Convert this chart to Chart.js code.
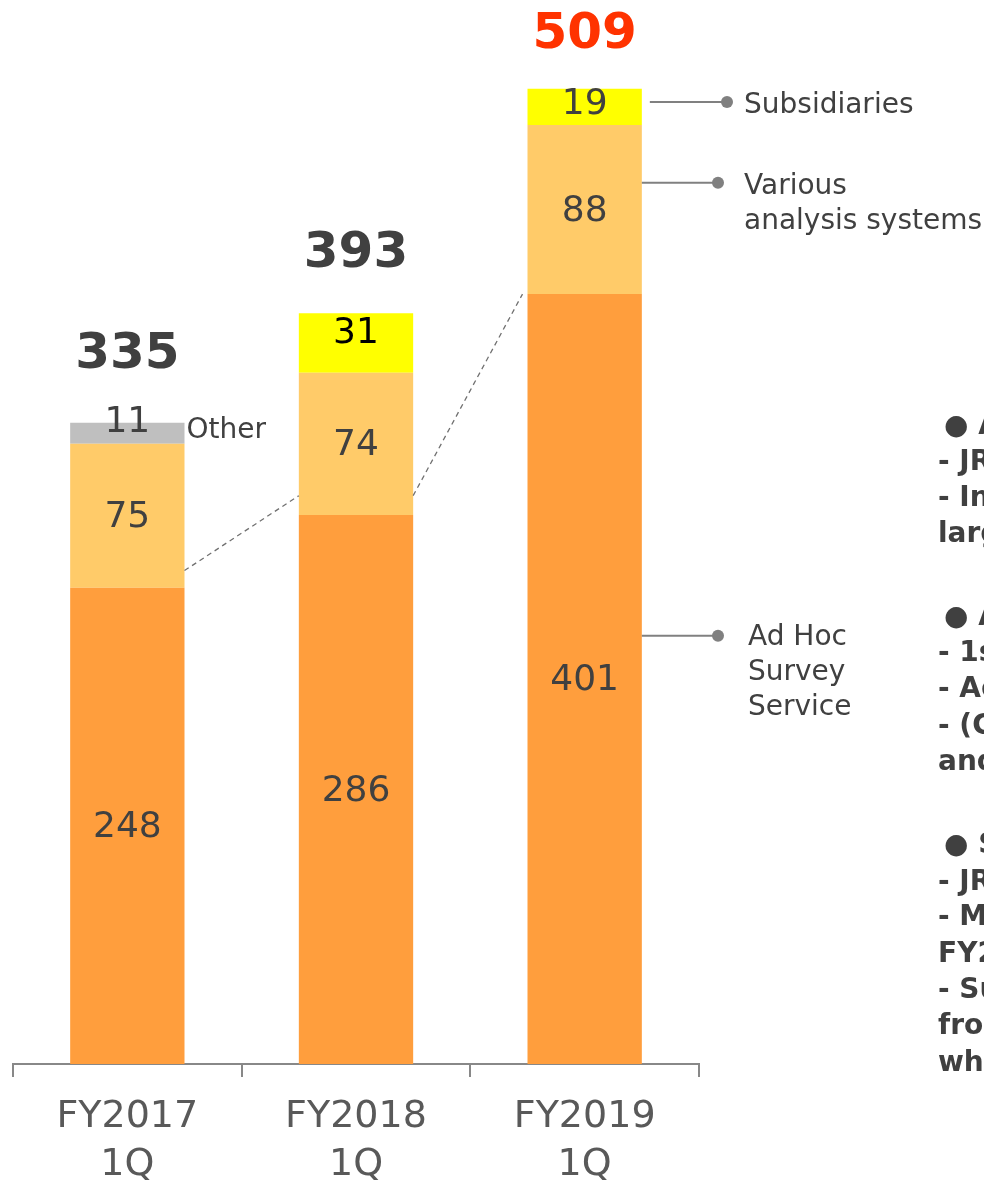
<!DOCTYPE html>
<html>
<head>
<meta charset="utf-8">
<script src="https://cdn.jsdelivr.net/npm/chart.js@4/dist/chart.umd.min.js"></script>
<style>
  html, body { margin: 0; padding: 0; background: #fff; }
  #wrap { width: 984px; height: 1183px; }
</style>
</head>
<body>
<div id="wrap"><canvas id="chart-sales" width="984" height="1183"></canvas></div>
<script>
const categories   = [['FY2017', '1Q'], ['FY2018', '1Q'], ['FY2019', '1Q']];
const adHoc        = [248, 286, 401];
const various      = [75, 74, 88];
const other        = [11, null, null];
const subsidiaries = [null, 31, 19];
const totals       = [335, 393, 509];

// values where the decorative dashed guides and the leader lines meet the bars
const guideLevels  = [257, 296, 401];
const leaderLevels = { subsidiaries: 501, various: 459, adHoc: 223 };

const TEXT_DARK = '#404040';
const FONT = "'DejaVu Sans', Verdana, sans-serif";

const notesRight = [
  { t: '● A', y: 427, x: 944 },
  { t: '- JR', y: 463 },
  { t: '- Inc', y: 499 },
  { t: 'large', y: 535 },
  { t: '● A', y: 618, x: 944 },
  { t: '- 1s', y: 654 },
  { t: '- Ad', y: 690 },
  { t: '- (Co', y: 727 },
  { t: 'and', y: 763 },
  { t: '● S', y: 846, x: 944 },
  { t: '- JR', y: 883 },
  { t: '- Ma', y: 918 },
  { t: 'FY20', y: 955 },
  { t: '- Su', y: 991 },
  { t: 'from', y: 1027 },
  { t: 'whi', y: 1064 },
];

function labelShift(v) {
  if (v < 15) return -11;
  if (v < 25) return -2;
  if (v < 40) return -9;
  return 2;
}

const segmentLabels = {
  id: 'segmentLabels',
  afterDatasetsDraw(chart) {
    const { ctx } = chart;
    ctx.save();
    ctx.font = `36px ${FONT}`;
    ctx.textAlign = 'center';
    ctx.textBaseline = 'middle';
    chart.data.datasets.forEach((ds, di) => {
      const meta = chart.getDatasetMeta(di);
      meta.data.forEach((bar, i) => {
        const v = ds.data[i];
        if (v == null) return;
        ctx.fillStyle = (ds.label === 'Subsidiaries' && i === 1) ? '#000' : TEXT_DARK;
        ctx.fillText(String(v), bar.x, (bar.y + bar.base) / 2 + labelShift(v));
      });
    });

    // totals above the bars
    const y = chart.scales.y;
    const gaps = [53, 42, 39];
    ctx.font = `bold 50px ${FONT}`;
    ctx.textBaseline = 'alphabetic';
    const base = chart.getDatasetMeta(0).data;
    totals.forEach((t, i) => {
      ctx.fillStyle = i === totals.length - 1 ? '#FF3300' : TEXT_DARK;
      ctx.fillText(String(t), base[i].x, y.getPixelForValue(t) - gaps[i]);
    });
    ctx.restore();
  },
};

const annotations = {
  id: 'annotations',
  afterDraw(chart) {
    const { ctx } = chart;
    const y = chart.scales.y;
    const bars = chart.getDatasetMeta(0).data;
    const half = bars[0].width / 2;
    ctx.save();

    // dashed guides between bars
    ctx.strokeStyle = '#707070';
    ctx.lineWidth = 1.3;
    ctx.setLineDash([5, 4]);
    ctx.beginPath();
    ctx.moveTo(bars[0].x + half, y.getPixelForValue(guideLevels[0]));
    ctx.lineTo(bars[1].x - half, y.getPixelForValue(guideLevels[1]));
    ctx.moveTo(bars[1].x + half, y.getPixelForValue(guideLevels[1]));
    ctx.lineTo(bars[2].x - half - 5, y.getPixelForValue(guideLevels[2]));
    ctx.stroke();
    ctx.setLineDash([]);

    // leader lines with dots
    const right = bars[2].x + half;
    const leader = (x0, x1, v) => {
      const py = y.getPixelForValue(v);
      ctx.strokeStyle = '#808080';
      ctx.lineWidth = 2;
      ctx.beginPath();
      ctx.moveTo(x0, py);
      ctx.lineTo(x1, py);
      ctx.stroke();
      ctx.fillStyle = '#808080';
      ctx.beginPath();
      ctx.arc(x1, py, 6, 0, Math.PI * 2);
      ctx.fill();
      return py;
    };
    const pySub = leader(right + 8, 727, leaderLevels.subsidiaries);
    const pyVar = leader(right, 718, leaderLevels.various);
    const pyAd  = leader(right, 718, leaderLevels.adHoc);

    ctx.fillStyle = TEXT_DARK;
    ctx.font = `28px ${FONT}`;
    ctx.textAlign = 'left';
    ctx.textBaseline = 'middle';
    ctx.fillText('Subsidiaries', 744, pySub + 4);
    ctx.fillText('Various', 744, pyVar + 4);
    ctx.fillText('analysis systems', 744, pyVar + 39);
    ['Ad Hoc', 'Survey', 'Service'].forEach((s, k) => ctx.fillText(s, 748, pyAd + 2 + k * 35));

    // "Other" tag next to the first bar
    const otherBar = chart.getDatasetMeta(2).data[0];
    ctx.fillText('Other', bars[0].x + half + 2, (otherBar.y + otherBar.base) / 2 - 3);

    // notes on the right (cut off by the frame)
    ctx.font = `bold 28px ${FONT}`;
    notesRight.forEach(n => ctx.fillText(n.t, n.x || 938, n.y));

    ctx.restore();
  },
};

const ctx = document.getElementById('chart-sales').getContext('2d');
new Chart(ctx, {
  type: 'bar',
  data: {
    labels: categories,
    datasets: [
      { label: 'Ad Hoc Survey Service', data: adHoc, backgroundColor: '#FF9E3D' },
      { label: 'Various analysis systems', data: various, backgroundColor: '#FFCB69' },
      { label: 'Other', data: other, backgroundColor: '#BFBFBF' },
      { label: 'Subsidiaries', data: subsidiaries, backgroundColor: '#FFFF00' },
    ].map(d => ({ ...d, barPercentage: 0.5, categoryPercentage: 1.0, borderWidth: 0 })),
  },
  options: {
    responsive: false,
    animation: false,
    layout: { padding: { left: 13, right: 285, top: 8, bottom: 0 } },
    plugins: { legend: { display: false }, tooltip: { enabled: false } },
    scales: {
      x: {
        stacked: true,
        afterFit: axis => { axis.height = 119; },
        grid: { offset: true, drawOnChartArea: false, tickLength: 13, color: '#888', lineWidth: 2 },
        border: { color: '#888', width: 2 },
        ticks: { font: { family: FONT, size: 38, lineHeight: 1.26 }, color: '#595959', padding: 16, maxRotation: 0 },
      },
      y: { stacked: true, display: false, min: 0, max: 550 },
    },
  },
  plugins: [segmentLabels, annotations],
});
</script>
</body>
</html>
